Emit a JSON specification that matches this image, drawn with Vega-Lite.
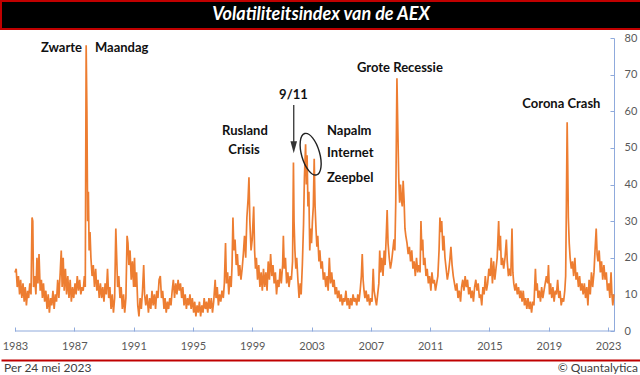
{
"$schema": "https://vega.github.io/schema/vega-lite/v6.json",
"padding": 0,
"bounds": "flush",
"spacing": 0,
"background": "#ffffff",
"config": {"view": {"stroke": null}, "axis": {"labelOverlap": false, "labelSeparation": 0}},
"datasets": {
"vix": [
{"t":1983.00,"v":16},{"t":1983.08,"v":17},{"t":1983.15,"v":12},{"t":1983.23,"v":15},{"t":1983.31,"v":10},{"t":1983.38,"v":14},{"t":1983.46,"v":9},{"t":1983.54,"v":13},{"t":1983.62,"v":8},{"t":1983.69,"v":12},{"t":1983.77,"v":7},{"t":1983.85,"v":11},{"t":1983.92,"v":9},
{"t":1984.00,"v":13},{"t":1984.08,"v":10},{"t":1984.15,"v":31},{"t":1984.20,"v":30},{"t":1984.25,"v":12},{"t":1984.33,"v":15},{"t":1984.41,"v":10},{"t":1984.48,"v":20},{"t":1984.55,"v":13},{"t":1984.62,"v":21},{"t":1984.70,"v":11},{"t":1984.78,"v":14},{"t":1984.85,"v":9},{"t":1984.92,"v":13},
{"t":1985.00,"v":8},{"t":1985.08,"v":11},{"t":1985.16,"v":6},{"t":1985.24,"v":10},{"t":1985.32,"v":5},{"t":1985.40,"v":9},{"t":1985.48,"v":7},{"t":1985.56,"v":11},{"t":1985.64,"v":6},{"t":1985.72,"v":10},{"t":1985.80,"v":8},{"t":1985.88,"v":14},{"t":1985.96,"v":9},
{"t":1986.05,"v":16},{"t":1986.12,"v":22},{"t":1986.18,"v":12},{"t":1986.25,"v":20},{"t":1986.32,"v":11},{"t":1986.40,"v":17},{"t":1986.48,"v":10},{"t":1986.56,"v":15},{"t":1986.64,"v":9},{"t":1986.72,"v":14},{"t":1986.80,"v":8},{"t":1986.88,"v":12},{"t":1986.96,"v":9},
{"t":1987.05,"v":13},{"t":1987.12,"v":10},{"t":1987.20,"v":15},{"t":1987.28,"v":11},{"t":1987.36,"v":14},{"t":1987.44,"v":10},{"t":1987.52,"v":12},{"t":1987.60,"v":11},{"t":1987.68,"v":15},{"t":1987.74,"v":12},{"t":1987.80,"v":78},{"t":1987.85,"v":60},{"t":1987.90,"v":30},{"t":1987.95,"v":38},
{"t":1988.00,"v":22},{"t":1988.06,"v":27},{"t":1988.12,"v":20},{"t":1988.20,"v":15},{"t":1988.28,"v":18},{"t":1988.36,"v":12},{"t":1988.44,"v":17},{"t":1988.52,"v":11},{"t":1988.60,"v":14},{"t":1988.68,"v":9},{"t":1988.76,"v":13},{"t":1988.84,"v":9},{"t":1988.92,"v":12},
{"t":1989.00,"v":8},{"t":1989.08,"v":13},{"t":1989.16,"v":10},{"t":1989.24,"v":17},{"t":1989.32,"v":9},{"t":1989.40,"v":12},{"t":1989.48,"v":6},{"t":1989.56,"v":10},{"t":1989.64,"v":5},{"t":1989.72,"v":9},{"t":1989.80,"v":28},{"t":1989.86,"v":20},{"t":1989.92,"v":12},
{"t":1990.00,"v":15},{"t":1990.08,"v":9},{"t":1990.16,"v":12},{"t":1990.24,"v":6},{"t":1990.32,"v":10},{"t":1990.40,"v":5},{"t":1990.48,"v":9},{"t":1990.56,"v":26},{"t":1990.62,"v":24},{"t":1990.68,"v":18},{"t":1990.76,"v":22},{"t":1990.84,"v":14},{"t":1990.92,"v":19},
{"t":1991.00,"v":12},{"t":1991.06,"v":20},{"t":1991.12,"v":12},{"t":1991.20,"v":16},{"t":1991.28,"v":7},{"t":1991.36,"v":4},{"t":1991.44,"v":9},{"t":1991.52,"v":6},{"t":1991.60,"v":11},{"t":1991.68,"v":18},{"t":1991.74,"v":10},{"t":1991.82,"v":7},{"t":1991.90,"v":10},
{"t":1992.00,"v":5},{"t":1992.08,"v":9},{"t":1992.16,"v":6},{"t":1992.24,"v":11},{"t":1992.32,"v":7},{"t":1992.40,"v":10},{"t":1992.48,"v":6},{"t":1992.56,"v":11},{"t":1992.64,"v":9},{"t":1992.72,"v":14},{"t":1992.80,"v":15},{"t":1992.88,"v":9},{"t":1992.96,"v":11},
{"t":1993.05,"v":6},{"t":1993.12,"v":9},{"t":1993.20,"v":5},{"t":1993.28,"v":8},{"t":1993.36,"v":6},{"t":1993.44,"v":9},{"t":1993.52,"v":7},{"t":1993.60,"v":11},{"t":1993.68,"v":14},{"t":1993.76,"v":9},{"t":1993.84,"v":13},{"t":1993.92,"v":10},
{"t":1994.00,"v":14},{"t":1994.08,"v":11},{"t":1994.16,"v":13},{"t":1994.24,"v":9},{"t":1994.32,"v":12},{"t":1994.40,"v":7},{"t":1994.48,"v":10},{"t":1994.56,"v":6},{"t":1994.64,"v":9},{"t":1994.72,"v":7},{"t":1994.80,"v":10},{"t":1994.88,"v":6},{"t":1994.96,"v":9},
{"t":1995.05,"v":5},{"t":1995.12,"v":8},{"t":1995.20,"v":4},{"t":1995.28,"v":7},{"t":1995.36,"v":5},{"t":1995.44,"v":8},{"t":1995.52,"v":4},{"t":1995.60,"v":7},{"t":1995.68,"v":5},{"t":1995.76,"v":9},{"t":1995.84,"v":6},{"t":1995.92,"v":8},
{"t":1996.00,"v":5},{"t":1996.08,"v":9},{"t":1996.16,"v":6},{"t":1996.24,"v":9},{"t":1996.32,"v":5},{"t":1996.40,"v":8},{"t":1996.50,"v":14},{"t":1996.56,"v":9},{"t":1996.64,"v":12},{"t":1996.72,"v":7},{"t":1996.80,"v":10},{"t":1996.88,"v":8},{"t":1996.96,"v":11},
{"t":1997.05,"v":9},{"t":1997.12,"v":13},{"t":1997.20,"v":24},{"t":1997.26,"v":13},{"t":1997.34,"v":16},{"t":1997.42,"v":10},{"t":1997.50,"v":15},{"t":1997.58,"v":12},{"t":1997.64,"v":18},{"t":1997.70,"v":31},{"t":1997.76,"v":22},{"t":1997.84,"v":25},{"t":1997.92,"v":18},
{"t":1998.00,"v":21},{"t":1998.08,"v":15},{"t":1998.16,"v":18},{"t":1998.24,"v":14},{"t":1998.32,"v":17},{"t":1998.40,"v":21},{"t":1998.48,"v":26},{"t":1998.56,"v":20},{"t":1998.64,"v":31},{"t":1998.72,"v":36},{"t":1998.78,"v":42},{"t":1998.84,"v":30},{"t":1998.92,"v":22},
{"t":1999.00,"v":25},{"t":1999.10,"v":34},{"t":1999.16,"v":22},{"t":1999.22,"v":17},{"t":1999.28,"v":20},{"t":1999.36,"v":14},{"t":1999.44,"v":18},{"t":1999.52,"v":12},{"t":1999.60,"v":16},{"t":1999.68,"v":11},{"t":1999.76,"v":17},{"t":1999.84,"v":12},{"t":1999.92,"v":16},
{"t":2000.00,"v":11},{"t":2000.08,"v":19},{"t":2000.16,"v":14},{"t":2000.24,"v":21},{"t":2000.32,"v":15},{"t":2000.40,"v":18},{"t":2000.48,"v":13},{"t":2000.56,"v":16},{"t":2000.64,"v":10},{"t":2000.72,"v":14},{"t":2000.80,"v":12},{"t":2000.88,"v":17},{"t":2000.96,"v":13},
{"t":2001.05,"v":18},{"t":2001.10,"v":26},{"t":2001.16,"v":17},{"t":2001.24,"v":20},{"t":2001.32,"v":13},{"t":2001.40,"v":16},{"t":2001.48,"v":12},{"t":2001.56,"v":15},{"t":2001.64,"v":14},{"t":2001.72,"v":19},{"t":2001.78,"v":46},{"t":2001.82,"v":30},{"t":2001.88,"v":22},{"t":2001.94,"v":17},
{"t":2002.00,"v":20},{"t":2002.08,"v":14},{"t":2002.16,"v":9},{"t":2002.24,"v":13},{"t":2002.30,"v":10},{"t":2002.38,"v":18},{"t":2002.46,"v":29},{"t":2002.52,"v":42},{"t":2002.60,"v":51},{"t":2002.65,"v":40},{"t":2002.70,"v":48},{"t":2002.76,"v":34},{"t":2002.82,"v":38},{"t":2002.88,"v":22},{"t":2002.94,"v":28},
{"t":2003.00,"v":24},{"t":2003.06,"v":30},{"t":2003.12,"v":34},{"t":2003.18,"v":47},{"t":2003.24,"v":34},{"t":2003.30,"v":28},{"t":2003.36,"v":23},{"t":2003.42,"v":26},{"t":2003.50,"v":19},{"t":2003.56,"v":22},{"t":2003.64,"v":17},{"t":2003.72,"v":19},{"t":2003.80,"v":14},{"t":2003.88,"v":16},{"t":2003.96,"v":12},
{"t":2004.05,"v":15},{"t":2004.12,"v":11},{"t":2004.20,"v":20},{"t":2004.28,"v":13},{"t":2004.36,"v":16},{"t":2004.44,"v":12},{"t":2004.52,"v":14},{"t":2004.60,"v":10},{"t":2004.68,"v":12},{"t":2004.76,"v":9},{"t":2004.84,"v":11},{"t":2004.92,"v":8},
{"t":2005.00,"v":10},{"t":2005.08,"v":7},{"t":2005.16,"v":9},{"t":2005.24,"v":8},{"t":2005.32,"v":11},{"t":2005.40,"v":7},{"t":2005.48,"v":9},{"t":2005.56,"v":6},{"t":2005.64,"v":9},{"t":2005.72,"v":7},{"t":2005.80,"v":10},{"t":2005.88,"v":8},{"t":2005.96,"v":9},
{"t":2006.05,"v":7},{"t":2006.12,"v":10},{"t":2006.20,"v":8},{"t":2006.28,"v":11},{"t":2006.36,"v":15},{"t":2006.42,"v":21},{"t":2006.48,"v":14},{"t":2006.54,"v":11},{"t":2006.60,"v":9},{"t":2006.68,"v":11},{"t":2006.76,"v":8},{"t":2006.84,"v":10},{"t":2006.92,"v":7},
{"t":2007.00,"v":9},{"t":2007.08,"v":8},{"t":2007.16,"v":17},{"t":2007.22,"v":11},{"t":2007.30,"v":9},{"t":2007.38,"v":7},{"t":2007.46,"v":10},{"t":2007.54,"v":13},{"t":2007.60,"v":22},{"t":2007.66,"v":16},{"t":2007.74,"v":20},{"t":2007.82,"v":15},{"t":2007.90,"v":22},{"t":2007.96,"v":18},
{"t":2008.04,"v":26},{"t":2008.10,"v":33},{"t":2008.16,"v":24},{"t":2008.24,"v":20},{"t":2008.32,"v":17},{"t":2008.40,"v":19},{"t":2008.48,"v":22},{"t":2008.56,"v":25},{"t":2008.62,"v":22},{"t":2008.68,"v":35},{"t":2008.76,"v":69},{"t":2008.82,"v":55},{"t":2008.88,"v":42},{"t":2008.94,"v":35},
{"t":2009.00,"v":40},{"t":2009.06,"v":36},{"t":2009.12,"v":34},{"t":2009.18,"v":41},{"t":2009.24,"v":36},{"t":2009.30,"v":28},{"t":2009.36,"v":26},{"t":2009.44,"v":24},{"t":2009.52,"v":21},{"t":2009.60,"v":23},{"t":2009.68,"v":19},{"t":2009.76,"v":22},{"t":2009.84,"v":17},{"t":2009.92,"v":19},
{"t":2010.00,"v":15},{"t":2010.08,"v":20},{"t":2010.16,"v":16},{"t":2010.24,"v":18},{"t":2010.32,"v":16},{"t":2010.38,"v":30},{"t":2010.44,"v":22},{"t":2010.50,"v":25},{"t":2010.56,"v":18},{"t":2010.64,"v":20},{"t":2010.72,"v":15},{"t":2010.80,"v":17},{"t":2010.88,"v":13},{"t":2010.96,"v":15},
{"t":2011.05,"v":11},{"t":2011.12,"v":16},{"t":2011.20,"v":13},{"t":2011.28,"v":14},{"t":2011.36,"v":11},{"t":2011.44,"v":13},{"t":2011.52,"v":15},{"t":2011.60,"v":22},{"t":2011.66,"v":31},{"t":2011.72,"v":27},{"t":2011.78,"v":30},{"t":2011.86,"v":22},{"t":2011.92,"v":26},
{"t":2012.00,"v":20},{"t":2012.08,"v":17},{"t":2012.16,"v":14},{"t":2012.24,"v":16},{"t":2012.32,"v":19},{"t":2012.40,"v":23},{"t":2012.48,"v":18},{"t":2012.56,"v":15},{"t":2012.64,"v":13},{"t":2012.72,"v":11},{"t":2012.80,"v":13},{"t":2012.88,"v":9},{"t":2012.96,"v":11},
{"t":2013.05,"v":8},{"t":2013.12,"v":12},{"t":2013.20,"v":14},{"t":2013.28,"v":11},{"t":2013.36,"v":15},{"t":2013.44,"v":12},{"t":2013.52,"v":14},{"t":2013.60,"v":10},{"t":2013.68,"v":12},{"t":2013.76,"v":9},{"t":2013.84,"v":11},{"t":2013.92,"v":8},
{"t":2014.00,"v":12},{"t":2014.08,"v":14},{"t":2014.16,"v":11},{"t":2014.24,"v":13},{"t":2014.32,"v":9},{"t":2014.40,"v":10},{"t":2014.48,"v":7},{"t":2014.56,"v":12},{"t":2014.64,"v":10},{"t":2014.72,"v":15},{"t":2014.80,"v":11},{"t":2014.88,"v":13},{"t":2014.96,"v":17},
{"t":2015.05,"v":15},{"t":2015.12,"v":20},{"t":2015.20,"v":13},{"t":2015.28,"v":19},{"t":2015.36,"v":14},{"t":2015.44,"v":17},{"t":2015.52,"v":20},{"t":2015.62,"v":30},{"t":2015.68,"v":22},{"t":2015.74,"v":26},{"t":2015.80,"v":18},{"t":2015.88,"v":20},{"t":2015.96,"v":17},
{"t":2016.05,"v":20},{"t":2016.14,"v":25},{"t":2016.20,"v":19},{"t":2016.28,"v":15},{"t":2016.36,"v":17},{"t":2016.44,"v":15},{"t":2016.52,"v":28},{"t":2016.58,"v":16},{"t":2016.64,"v":13},{"t":2016.72,"v":11},{"t":2016.80,"v":13},{"t":2016.88,"v":10},{"t":2016.96,"v":12},
{"t":2017.05,"v":9},{"t":2017.12,"v":11},{"t":2017.20,"v":8},{"t":2017.28,"v":11},{"t":2017.36,"v":7},{"t":2017.44,"v":9},{"t":2017.52,"v":6},{"t":2017.60,"v":9},{"t":2017.68,"v":6},{"t":2017.76,"v":8},{"t":2017.84,"v":5},{"t":2017.92,"v":8},
{"t":2018.00,"v":7},{"t":2018.10,"v":17},{"t":2018.16,"v":11},{"t":2018.22,"v":13},{"t":2018.28,"v":9},{"t":2018.36,"v":11},{"t":2018.44,"v":8},{"t":2018.52,"v":12},{"t":2018.60,"v":9},{"t":2018.68,"v":11},{"t":2018.76,"v":13},{"t":2018.84,"v":15},{"t":2018.92,"v":13},{"t":2018.98,"v":18},
{"t":2019.05,"v":10},{"t":2019.12,"v":13},{"t":2019.20,"v":9},{"t":2019.28,"v":12},{"t":2019.36,"v":8},{"t":2019.44,"v":11},{"t":2019.52,"v":10},{"t":2019.60,"v":14},{"t":2019.68,"v":9},{"t":2019.76,"v":11},{"t":2019.84,"v":7},{"t":2019.92,"v":9},
{"t":2020.00,"v":8},{"t":2020.08,"v":11},{"t":2020.14,"v":15},{"t":2020.19,"v":35},{"t":2020.24,"v":57},{"t":2020.28,"v":45},{"t":2020.32,"v":31},{"t":2020.38,"v":24},{"t":2020.44,"v":20},{"t":2020.52,"v":17},{"t":2020.60,"v":19},{"t":2020.68,"v":15},{"t":2020.76,"v":20},{"t":2020.84,"v":14},{"t":2020.92,"v":16},
{"t":2021.00,"v":12},{"t":2021.08,"v":15},{"t":2021.16,"v":11},{"t":2021.24,"v":13},{"t":2021.32,"v":10},{"t":2021.40,"v":13},{"t":2021.48,"v":9},{"t":2021.56,"v":12},{"t":2021.64,"v":7},{"t":2021.72,"v":14},{"t":2021.80,"v":10},{"t":2021.88,"v":16},{"t":2021.96,"v":12},
{"t":2022.05,"v":16},{"t":2022.12,"v":22},{"t":2022.20,"v":28},{"t":2022.26,"v":21},{"t":2022.32,"v":19},{"t":2022.40,"v":22},{"t":2022.48,"v":16},{"t":2022.56,"v":19},{"t":2022.64,"v":14},{"t":2022.72,"v":18},{"t":2022.80,"v":14},{"t":2022.88,"v":16},{"t":2022.96,"v":11},
{"t":2023.05,"v":13},{"t":2023.12,"v":9},{"t":2023.20,"v":16},{"t":2023.26,"v":10},{"t":2023.32,"v":7},{"t":2023.39,"v":10}
]
},
"vconcat": [
{
"width": 640, "height": 28,
"view": {"fill": "#000000", "stroke": "#C00000", "strokeWidth": 2},
"data": {"values": [{"label": "Volatiliteitsindex van de AEX"}]},
"mark": {"type": "text", "font": "Lato", "fontSize": 18, "fontStyle": "italic", "fontWeight": "bold", "color": "#ffffff"},
"encoding": {"text": {"field": "label"}}
},
{
"width": 640, "height": 9,
"data": {"values": [{"a": 1}]},
"mark": {"type": "point", "opacity": 0}
},
{
"width": 613, "height": 293,
"layer": [
{
"data": {"name": "vix"},
"mark": {"type": "line", "color": "#ED7D31", "strokeWidth": 1.7},
"encoding": {
"x": {"field": "t", "type": "quantitative", "title": null,
 "scale": {"domain": [1982.056, 2023.4], "nice": false, "zero": false},
 "axis": {"orient": "bottom", "values": [1983,1987,1991,1995,1999,2003,2007,2011,2015,2019,2023], "format": "d", "title": null, "grid": false,
  "domain": false, "tickColor": "#8FAADC", "tickSize": -4, "labelPadding": 13,
  "labelColor": "#595959", "labelFont": "Lato", "labelFontSize": 11, "labelFlush": false, "labelOverlap": false}},
"y": {"field": "v", "type": "quantitative", "title": null,
 "scale": {"domain": [0, 80], "nice": false},
 "axis": {"orient": "right", "values": [0,10,20,30,40,50,60,70,80], "tickCount": 9, "title": null, "grid": false,
  "domainColor": "#8FAADC", "domainWidth": 1, "tickColor": "#8FAADC", "tickSize": -4, "labelPadding": 14,
  "labelColor": "#595959", "labelFont": "Lato", "labelFontSize": 11, "labelOverlap": false, "labelSeparation": 0, "labelFlush": false}}
}
},
{
"data": {"values": [{"t": 1983, "t2": 2023.4, "v": 0}]},
"mark": {"type": "rule", "color": "#8FAADC", "strokeWidth": 1},
"encoding": {
"x": {"field": "t", "type": "quantitative", "title": null},
"x2": {"field": "t2"},
"y": {"field": "v", "type": "quantitative", "title": null}
}
},
{
"data": {"values": [
 {"t": 2008.96, "v": 71.9, "label": "Grote Recessie"},
 {"t": 2019.85, "v": 61.9, "label": "Corona Crash"},
 {"t": 1998.51, "v": 54.6, "label": "Rusland"},
 {"t": 1998.45, "v": 49.4, "label": "Crisis"},
 {"t": 2001.78, "v": 64.4, "label": "9/11"}
]},
"mark": {"type": "text", "align": "center", "font": "Lato", "fontSize": 13, "fontWeight": "bold", "color": "#111111"},
"encoding": {
"x": {"field": "t", "type": "quantitative", "title": null},
"y": {"field": "v", "type": "quantitative", "title": null},
"text": {"field": "label"}
}
},
{
"data": {"values": [
 {"t": 2004.04, "v": 54.6, "label": "Napalm"},
 {"t": 2004.04, "v": 48.5, "label": "Internet"},
 {"t": 2004.04, "v": 41.8, "label": "Zeepbel"},
 {"t": 1988.39, "v": 77.3, "label": "Maandag"}
]},
"mark": {"type": "text", "align": "left", "font": "Lato", "fontSize": 13, "fontWeight": "bold", "color": "#111111"},
"encoding": {
"x": {"field": "t", "type": "quantitative", "title": null},
"y": {"field": "v", "type": "quantitative", "title": null},
"text": {"field": "label"}
}
},
{
"data": {"values": [
 {"t": 1987.52, "v": 77.3, "label": "Zwarte"}
]},
"mark": {"type": "text", "align": "right", "font": "Lato", "fontSize": 13, "fontWeight": "bold", "color": "#111111"},
"encoding": {
"x": {"field": "t", "type": "quantitative", "title": null},
"y": {"field": "v", "type": "quantitative", "title": null},
"text": {"field": "label"}
}
},
{
"data": {"values": [{"t": 2001.80, "v": 61.7, "v2": 51.5}]},
"mark": {"type": "rule", "color": "#333333", "strokeWidth": 1.3},
"encoding": {
"x": {"field": "t", "type": "quantitative", "title": null},
"y": {"field": "v", "type": "quantitative", "title": null},
"y2": {"field": "v2"}
}
},
{
"data": {"values": [{"t": 2001.80, "v": 50.2}]},
"mark": {"type": "point", "shape": "M-0.55,-1L0.55,-1L0,1Z", "size": 144, "filled": true, "color": "#333333", "opacity": 1},
"encoding": {
"x": {"field": "t", "type": "quantitative", "title": null},
"y": {"field": "v", "type": "quantitative", "title": null}
}
},
{
"data": {"values": [{"t": 2002.94, "v": 48.27}]},
"mark": {"type": "point", "shape": "M0,-1A0.42,1 0 1,1 0,1A0.42,1 0 1,1 0,-1Z", "size": 1849, "filled": false, "stroke": "#222222", "strokeWidth": 1.4, "opacity": 1, "angle": -16},
"encoding": {
"x": {"field": "t", "type": "quantitative", "title": null},
"y": {"field": "v", "type": "quantitative", "title": null}
}
}
]
},
{
"width": 640, "height": 29,
"data": {"values": [{"a": 1}]},
"mark": {"type": "point", "opacity": 0}
},
{
"width": 640, "height": 16,
"data": {"values": [{"pos": 0, "label": "Per 24 mei 2023"}, {"pos": 1, "label": "© Quantalytica"}]},
"layer": [
{
"transform": [{"filter": "datum.pos == 0"}],
"mark": {"type": "text", "align": "left", "dx": 3, "font": "Lato", "fontSize": 12, "color": "#404040"},
"encoding": {
"x": {"field": "pos", "type": "quantitative", "title": null, "scale": {"domain": [0, 1]},
 "axis": {"orient": "top", "domainColor": "#C00000", "domainWidth": 2, "labels": false, "ticks": false, "grid": false, "title": null}},
"text": {"field": "label"}
}
},
{
"transform": [{"filter": "datum.pos == 1"}],
"mark": {"type": "text", "align": "right", "dx": -3, "font": "Lato", "fontSize": 12, "color": "#404040"},
"encoding": {
"x": {"field": "pos", "type": "quantitative", "title": null},
"text": {"field": "label"}
}
}
]
}
]
}
